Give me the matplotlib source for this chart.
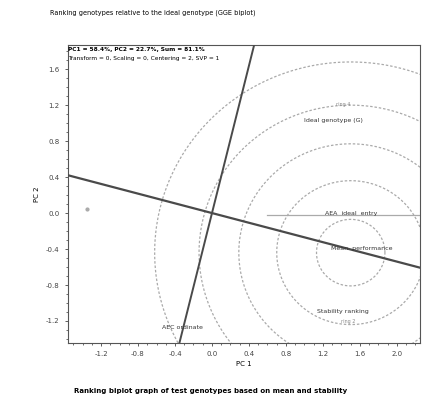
import matplotlib.pyplot as plt
import numpy as np

plt.rcParams["font.family"] = ["DejaVu Sans"]
line_color = "#4a4a4a"
ring_color = "#aaaaaa"

# biplot geometry
aea_slope = -0.27          # average environment axis
perp_slope = 4.1           # axis through origin, near perpendicular
ring_center = (1.50, -0.44)
ring_radii = [0.37, 0.80, 1.21, 1.64, 2.12]
ref_line_y = -0.02

x_ticks = [-1.2, -0.8, -0.4, 0.0, 0.4, 0.8, 1.2, 1.6, 2.0]
y_ticks = [-1.2, -0.8, -0.4, 0.0, 0.4, 0.8, 1.2, 1.6]

label_text = ["Ideal genotype (G)", "AEA  ideal  entry", "Mean  performance",
              "Stability ranking", "AEC ordinate"]
label_x = [1.31, 1.51, 1.62, 1.41, -0.32]
label_y = [1.03, -0.01, -0.39, -1.09, -1.27]
small_text = ["ring 4", "ring 2"]
small_x = [1.42, 1.47]
small_y = [1.21, -1.21]
point_x = [-1.35]
point_y = [0.04]

fig = plt.figure(figsize=(4.29, 3.96), dpi=100)
ax = fig.add_axes([0.1585, 0.134, 0.8205, 0.752])
xlim = (-1.557, 2.249)
ylim = (-1.444, 1.867)
ax.set_xlim(*xlim)
ax.set_ylim(*ylim)

t = np.linspace(0, 2 * np.pi, 400)
for r in ring_radii:
    ax.plot(ring_center[0] + r * np.cos(t), ring_center[1] + r * np.sin(t),
            color=ring_color, lw=0.9, ls=(0, (2, 1.5)), zorder=1)

xs = np.array(xlim)
ax.plot(xs, aea_slope * xs, color=line_color, lw=1.6, zorder=3)
ys = np.array(ylim)
ax.plot(ys / perp_slope, ys, color=line_color, lw=1.4, zorder=3)
ax.plot([0.6, xlim[1]], [ref_line_y, ref_line_y], color=ring_color, lw=0.9, zorder=2)

ax.scatter(point_x, point_y, s=4, color=ring_color, zorder=2)
for s, x, y in zip(label_text, label_x, label_y):
    ax.text(x, y, s, fontsize=4.5, ha="center", va="center", color="#333333", zorder=4)
for s, x, y in zip(small_text, small_x, small_y):
    ax.text(x, y, s, fontsize=3.5, ha="center", va="center", color="#888888", zorder=4)

ax.set_xticks(x_ticks)
ax.set_yticks(y_ticks)
ax.set_xticklabels([f"{v:.1f}" for v in x_ticks])
ax.set_yticklabels([f"{v:.1f}" for v in y_ticks])
ax.minorticks_on()
ax.tick_params(labelsize=5, length=2.5, width=0.6, colors="#444444")
ax.tick_params(which="minor", length=1.2, width=0.4)
for sp in ax.spines.values():
    sp.set_linewidth(0.8)
    sp.set_color("#555555")

ax.text(0.0, 0.995, "PC1 = 58.4%, PC2 = 22.7%, Sum = 81.1%",
        transform=ax.transAxes, fontsize=4.2, fontweight="bold", va="top", ha="left")
ax.text(0.0, 0.965, "Transform = 0, Scaling = 0, Centering = 2, SVP = 1",
        transform=ax.transAxes, fontsize=4.2, va="top", ha="left")

ax.set_xlabel("PC 1", fontsize=5, labelpad=3)
ax.set_ylabel("PC 2", fontsize=5, labelpad=4)
fig.text(0.117, 0.967, "Ranking genotypes relative to the ideal genotype (GGE biplot)",
         fontsize=4.7, ha="left", va="center")
fig.text(0.49, 0.013, "Ranking biplot graph of test genotypes based on mean and stability",
         fontsize=5, ha="center", va="center", fontweight="bold")

fig.savefig("out.png", dpi=100)
